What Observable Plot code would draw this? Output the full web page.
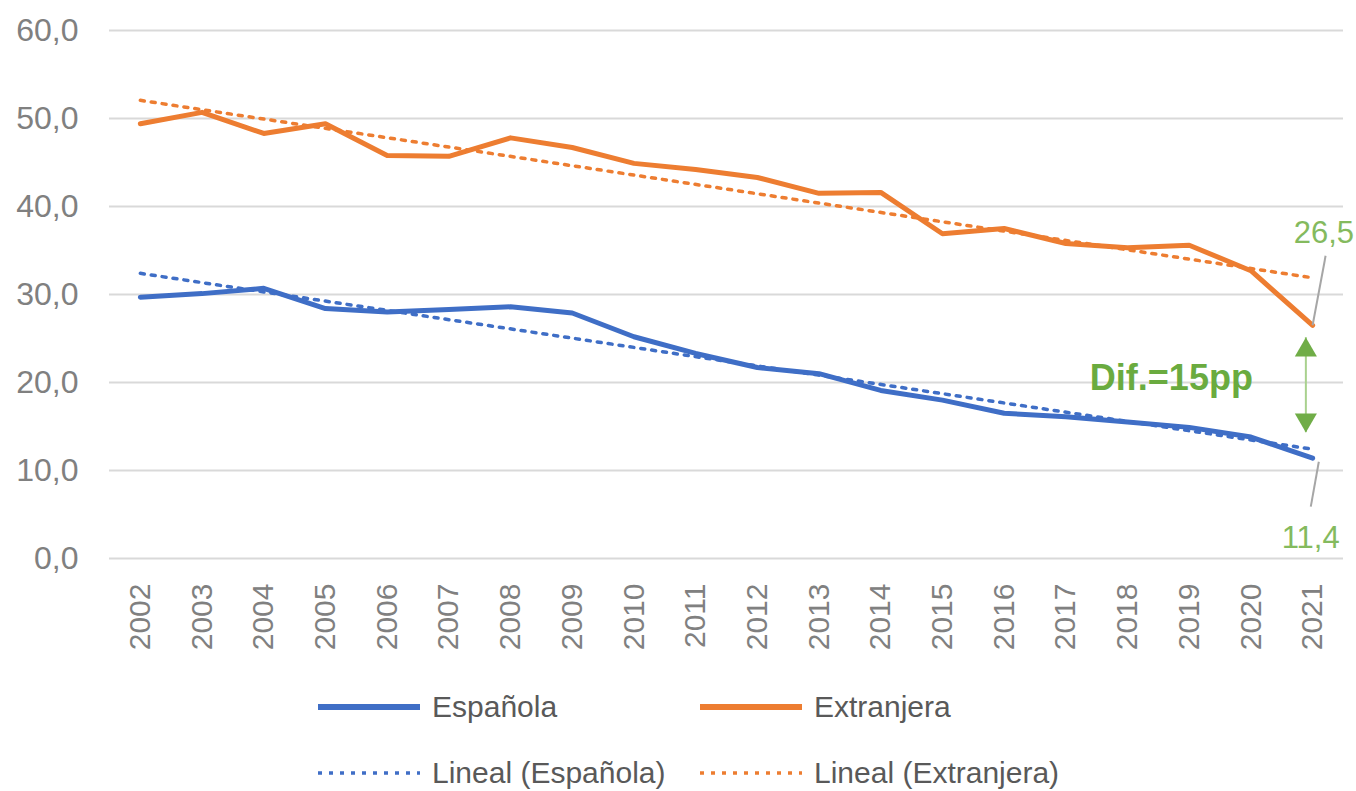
<!DOCTYPE html>
<html>
<head>
<meta charset="utf-8">
<script src="https://cdn.jsdelivr.net/npm/d3@7"></script>
<script src="https://cdn.jsdelivr.net/npm/@observablehq/plot@0.6"></script>
<style>
  html, body { margin: 0; padding: 0; background: #fff; }
  #wrap { position: relative; width: 1356px; height: 791px; overflow: hidden; font-family: "Liberation Sans", Arial, sans-serif; }
  .leg { position: absolute; display: flex; align-items: center; height: 30px; font-size: 30px; color: #595959; white-space: nowrap; }
  .leg svg { margin-right: 12px; }
</style>
</head>
<body>
<div id="wrap"></div>
<script>
// ---- data ----
const years = [2002, 2003, 2004, 2005, 2006, 2007, 2008, 2009, 2010, 2011, 2012, 2013, 2014, 2015, 2016, 2017, 2018, 2019, 2020, 2021];
const espanola = [29.7, 30.1, 30.7, 28.4, 28.0, 28.3, 28.6, 27.9, 25.2, 23.3, 21.7, 21.0, 19.1, 18.0, 16.5, 16.1, 15.5, 14.9, 13.8, 11.4];
const extranjera = [49.4, 50.7, 48.3, 49.4, 45.8, 45.7, 47.8, 46.7, 44.9, 44.2, 43.3, 41.5, 41.6, 36.9, 37.5, 35.8, 35.3, 35.6, 32.7, 26.5];
const seriesNames = ["Española", "Extranjera"];
const trendNames = ["Lineal (Española)", "Lineal (Extranjera)"];
const seriesColors = ["#3F6EC6", "#ED7D31"];
const yTicks = [0, 10, 20, 30, 40, 50, 60];

// annotations (data units)
const valueLabels = [
  {x: 2021, y: 35.9, text: "26,5", anchor: "start", dx: -19},
  {x: 2021, y: 1.25, text: "11,4", anchor: "middle", dx: -2}
];
const leaders = [
  {x1: 2021, y1: 26.5, x2: 2021.21, y2: 34.4},
  {x1: 2021.1, y1: 11.0, x2: 2020.97, y2: 5.9}
];
const diffArrow = {x: 2020.89, top: 25.1, bottom: 14.3, headTop: 23.67, headBottom: 15.76};
const diffLabel = [{x: 2018.71, y: 19.1, text: "Dif.=15pp"}];

// ---- table ----
const data = [];
years.forEach((yr, i) => {
  data.push({year: yr, value: espanola[i], series: seriesNames[0]});
  data.push({year: yr, value: extranjera[i], series: seriesNames[1]});
});

const green = "#70AD47";
const fmt = d => d.toFixed(1).replace(".", ",");

const chart = Plot.plot({
  width: 1356,
  height: 680,
  marginLeft: 109,
  marginRight: 13,
  marginTop: 30,
  marginBottom: 122,
  style: {fontFamily: "'Liberation Sans', Arial, sans-serif", background: "transparent"},
  x: {type: "linear", domain: [2001.5, 2021.5]},
  y: {domain: [0, 60]},
  color: {domain: seriesNames, range: seriesColors},
  marks: [
    Plot.gridY(yTicks, {stroke: "#d9d9d9", strokeOpacity: 1, strokeWidth: 2}),
    Plot.axisY(yTicks, {tickSize: 0, tickPadding: 31, tickFormat: fmt, fontSize: 32, color: "#808080", label: null}),
    Plot.axisX(years, {tickSize: 0, tickPadding: 25, tickRotate: -90, tickFormat: d => String(d), fontSize: 30, color: "#808080", label: null}),
    Plot.line(data, {x: "year", y: "value", stroke: "series", z: "series", strokeWidth: 5, curve: "linear", strokeLinejoin: "round", strokeLinecap: "round"}),
    Plot.linearRegressionY(data, {x: "year", y: "value", stroke: "series", z: "series", ci: 0, strokeWidth: 3.5, strokeDasharray: "4,7"}),
    Plot.link(leaders, {x1: "x1", y1: "y1", x2: "x2", y2: "y2", stroke: "#A6A6A6", strokeWidth: 2}),
    Plot.text(valueLabels.filter(d => d.anchor === "start"), {x: "x", y: "y", text: "text", textAnchor: "start", lineAnchor: "bottom", dx: -19, fill: "#84BA5E", fontSize: 31}),
    Plot.text(valueLabels.filter(d => d.anchor === "middle"), {x: "x", y: "y", text: "text", textAnchor: "middle", lineAnchor: "bottom", dx: -2, fill: "#84BA5E", fontSize: 31}),
    Plot.ruleX([diffArrow], {x: "x", y1: "top", y2: "bottom", stroke: "#A9D18E", strokeWidth: 2}),
    Plot.dot([diffArrow], {x: "x", y: "headTop", symbol: "triangle", r: 8.2, fill: green, stroke: "none"}),
    Plot.dot([diffArrow], {x: "x", y: "headBottom", symbol: "triangle", r: 8.2, fill: green, stroke: "none", rotate: 180}),
    Plot.text(diffLabel, {x: "x", y: "y", text: "text", textAnchor: "middle", lineAnchor: "bottom", fill: "#6AAB3F", fontSize: 36, fontWeight: "bold"})
  ]
});

const wrap = document.getElementById("wrap");
chart.style.position = "absolute";
chart.style.left = "0px";
chart.style.top = "0px";
wrap.appendChild(chart);

// ---- legend ----
const legendItems = [
  {label: seriesNames[0], color: seriesColors[0], dash: null, left: 318, top: 692},
  {label: seriesNames[1], color: seriesColors[1], dash: null, left: 700, top: 692},
  {label: trendNames[0], color: seriesColors[0], dash: "4,7", left: 318, top: 758},
  {label: trendNames[1], color: seriesColors[1], dash: "4,7", left: 700, top: 758}
];
legendItems.forEach(it => {
  const div = document.createElement("div");
  div.className = "leg";
  div.style.left = it.left + "px";
  div.style.top = it.top + "px";
  const sw = it.dash ? 3.5 : 6;
  div.innerHTML = `<svg width="102" height="10"><line x1="0" y1="5" x2="102" y2="5" stroke="${it.color}" stroke-width="${sw}" ${it.dash ? `stroke-dasharray="${it.dash}"` : ""}/></svg><span>${it.label}</span>`;
  wrap.appendChild(div);
});
</script>
</body>
</html>
